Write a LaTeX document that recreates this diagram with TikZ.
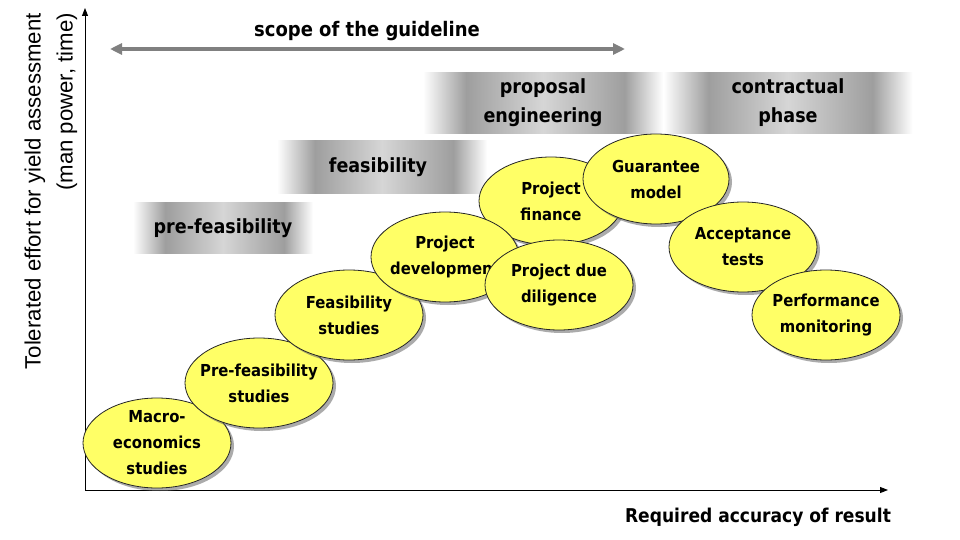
\documentclass[tikz,border=0pt]{standalone}
\usepackage{fontspec}
\setmainfont{DejaVu Sans Condensed}
\newfontfamily\arialf{Liberation Sans}
\usetikzlibrary{shapes.geometric,shadows,arrows.meta}
\definecolor{blobyellow}{RGB}{255,255,102}
\definecolor{bandgray}{RGB}{158,158,158}
\definecolor{bandlight}{RGB}{214,214,214}
\definecolor{scopegray}{RGB}{128,128,128}
\pgfdeclarehorizontalshading{bandshade}{100bp}{color(0bp)=(white); color(25bp)=(white); color(34bp)=(bandgray); color(50bp)=(bandlight); color(67bp)=(bandgray); color(75bp)=(white); color(100bp)=(white)}
\newcommand\blobat[4]{%
  \node[blob,#4] (#1) at (#2) {};
  \node[blobtext] (#1t) at (#1) {#3};}
\begin{document}
\begin{tikzpicture}[x=1pt,y=-1pt,
  blob/.style={ellipse, draw=black!85, line width=0.8pt, fill=blobyellow,
    minimum width=148pt, minimum height=90pt, inner sep=0pt,
    drop shadow={shadow xshift=3pt, shadow yshift=-3pt, fill=black!60, opacity=0.55}},
  blobtext/.style={inner sep=0pt, align=center,
    font=\bfseries\fontsize{16.5}{26}\selectfont},
  band/.style={rectangle, shading=bandshade, draw=none, inner sep=0pt, align=center,
    font=\bfseries\fontsize{19.5}{29}\selectfont},
  axisline/.style={draw=black, line width=0.9pt, -{Triangle[length=8pt,width=6pt]}},
  scopearrow/.style={draw=scopegray, line width=3.5pt,
    {Triangle[length=12pt,width=11pt]}-{Triangle[length=12pt,width=11pt]}},
  heading/.style={font=\bfseries\fontsize{19}{22}\selectfont, inner sep=0pt}
]
\useasboundingbox (0,0) rectangle (960,540);
\fill[white] (0,0) rectangle (960,540);

% axes
\coordinate (O) at (85,490);
\coordinate (ytop) at (85,8);
\coordinate (xend) at (888,490);
\draw[axisline] (O) -- (ytop);
\draw[axisline] (O) -- (xend);

\node[rotate=90, anchor=east, align=right, inner sep=0pt,
  font=\arialf\fontsize{22.2}{32}\selectfont] (ylab) at (51,13)
  {Tolerated effort for yield assessment\\(man power, time)};
\node[heading] (xlab) at (758,517) {Required accuracy of result};

% scope
\coordinate (sL) at (110,49);
\coordinate (sR) at (625,49);
\draw[scopearrow] (sL) -- (sR);
\node[heading, font=\bfseries\fontsize{20}{22}\selectfont] (scope) at (367,31) {scope of the guideline};

% bands
\node[band, minimum width=180pt, minimum height=51pt] (bpre) at (223,228) {pre-feasibility};
\node[band, minimum width=210pt, minimum height=53pt] (bfeas) at (382,167) {\hspace*{-8pt}feasibility};
\node[band, minimum width=240pt, minimum height=61pt] (bprop) at (543,103) {proposal\\engineering};
\node[band, minimum width=249pt, minimum height=61pt] (bcont) at (788,103) {contractual\\phase};

% ellipses
\blobat{macro}{157,443}{Macro-\\economics\\studies}{}
\blobat{prefs}{259,383}{Pre-feasibility\\studies}{}
\blobat{feas}{349,315}{Feasibility\\studies}{}
\blobat{fin}{551,201}{Project\\finance}{minimum width=144pt, minimum height=88pt}
\blobat{dev}{445,257}{Project\\development}{}
\blobat{guar}{656,179}{Guarantee\\model}{minimum width=146pt}
\blobat{due}{559,285}{Project due\\diligence}{}
\blobat{acc}{743,247}{Acceptance\\tests}{}
\blobat{perf}{826,315}{Performance\\monitoring}{}
\end{tikzpicture}
\end{document}
